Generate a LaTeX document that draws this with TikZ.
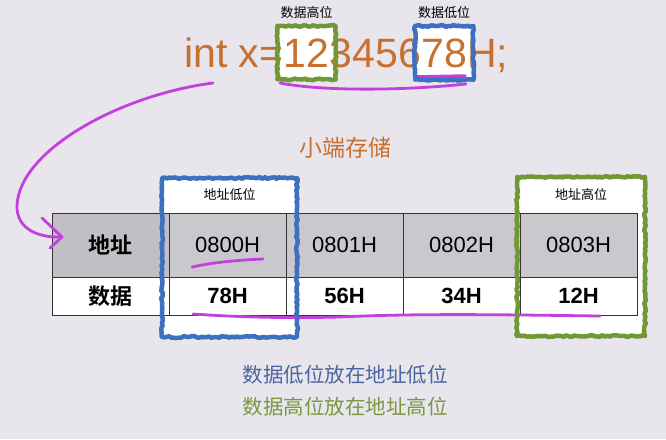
\documentclass[tikz,border=0pt]{standalone}
\usepackage{fontspec}
\setmainfont{Liberation Sans}
\newfontfamily\cjk{Noto Sans CJK SC}[BoldFont={Noto Sans CJK SC Bold}]
\usetikzlibrary{arrows.meta,decorations.pathmorphing,fit}
\pgfdeclarelayer{bg}\pgfdeclarelayer{boxes}\pgfdeclarelayer{front}
\pgfsetlayers{bg,boxes,main,front}
\definecolor{pagebg}{RGB}{233,229,236}
\definecolor{codeor}{RGB}{200,112,45}
\definecolor{pen}{RGB}{196,64,222}
\definecolor{gbox}{RGB}{112,152,52}
\definecolor{bbox}{RGB}{62,112,192}
\definecolor{btext}{RGB}{72,102,160}
\definecolor{gtext}{RGB}{122,152,62}
\definecolor{cellgray}{RGB}{203,200,205}
\definecolor{hdrgray}{RGB}{193,190,196}
\begin{document}
\begin{tikzpicture}[x=1pt,y=-1pt,
  code/.style={inner sep=0pt, anchor=base west, text=codeor, font=\fontsize{41}{41}\selectfont},
  cell/.style={draw=black!80, line width=0.8pt, minimum width=117pt, inner sep=0pt, font=\fontsize{22}{22}\selectfont},
  addr/.style={cell, minimum height=64pt, fill=cellgray},
  datc/.style={cell, minimum height=38pt, fill=white, font=\fontsize{22}{22}\selectfont\bfseries},
  crayon/.style={line width=4.5pt, decorate, decoration={random steps, segment length=2.5pt, amplitude=0.9pt}, line join=round},
  penline/.style={draw=pen, line width=2.8pt, line cap=round, line join=round},
  small/.style={font=\cjk\fontsize{13}{13}\selectfont, inner sep=0pt},
  note/.style={font=\cjk\fontsize{20.5}{20.5}\selectfont, inner sep=0pt}
]
\useasboundingbox (0,0) rectangle (666,439);
\begin{pgfonlayer}{bg}
  \fill[pagebg] (0,0) rectangle (666,439);
\end{pgfonlayer}

% code line
\node[code] (c1) at (184,67) {int x=};
\node[code] (n12) at (c1.base east) {12};
\node[code] (c3) at (n12.base east) {3456};
\node[code] (n78) at (c3.base east) {78};
\node[code] (c5) at (n78.base east) {H;};

\node[fit=(n12), inner sep=0pt, inner xsep=6pt, inner ysep=12pt] (g12) {};
\node[fit=(n78), inner sep=0pt, inner xsep=6pt, inner ysep=12pt] (b78) {};
\begin{pgfonlayer}{boxes}
  \fill[white] (g12.north west) rectangle (g12.south east);
  \fill[white] (b78.north west) rectangle (b78.south east);
\end{pgfonlayer}
\begin{pgfonlayer}{front}
  \draw[crayon, draw=gbox] (g12.north west) rectangle (g12.south east);
  \draw[crayon, draw=bbox] (b78.north west) rectangle (b78.south east);
\end{pgfonlayer}
\node[small] (lhi) at (g12.north |- 0,13) {数据高位};
\node[small] (llo) at (b78.north |- 0,13) {数据低位};

% title
\node[font=\cjk\fontsize{23}{23}\selectfont, text=codeor, inner sep=0pt] (title) at (345,148) {小端存储};

% table highlight boxes (fills)
\begin{pgfonlayer}{boxes}
  \fill[white] (162,178) rectangle (297,337);
  \fill[white] (517,177) rectangle (645,336);
\end{pgfonlayer}

% table
\node[addr, fill=hdrgray] (h1) at (110.5,245) {\cjk\bfseries 地址};
\node[addr] (a1) at (227.5,245) {0800H};
\node[addr] (a2) at (344.5,245) {0801H};
\node[addr] (a3) at (461.5,245) {0802H};
\node[addr] (a4) at (578.5,245) {0803H};
\node[datc] (h2) at (110.5,296) {\cjk\bfseries 数据};
\node[datc] (d1) at (227.5,296) {78H};
\node[datc] (d2) at (344.5,296) {56H};
\node[datc] (d3) at (461.5,296) {34H};
\node[datc] (d4) at (578.5,296) {12H};

\node[small] (llow) at (229.5,195) {地址低位};
\node[small] (lhigh) at (581,195) {地址高位};

\begin{pgfonlayer}{front}
  \draw[crayon, draw=bbox] (162,178) rectangle (297,337);
  \draw[crayon, draw=gbox] (517,177) rectangle (645,336);
\end{pgfonlayer}

% pen annotations
\coordinate (penstart) at (213,83);
\coordinate (tip) at (62,237);
\draw[penline] (penstart) .. controls (120,95) and (20,150) .. (17,205)
   .. controls (16,230) and (40,238) .. (tip);
\draw[penline] (42,218) -- (tip) -- (50,248);
\draw[penline, line width=3.5pt] (415,77) -- (465,76);
\draw[penline] (280,83) .. controls (320,91) and (400,91) .. (466,84);
\draw[penline] (192,267) .. controls (215,262) and (240,260) .. (263,259);
\draw[penline] (193,314) .. controls (250,318) and (300,318) .. (340,317)
   .. controls (420,313) and (520,315) .. (600,316);

% notes
\node[note, text=btext] (n1) at (345,375) {数据低位放在地址低位};
\node[note, text=gtext] (n2) at (345,407) {数据高位放在地址高位};
\end{tikzpicture}
\end{document}
